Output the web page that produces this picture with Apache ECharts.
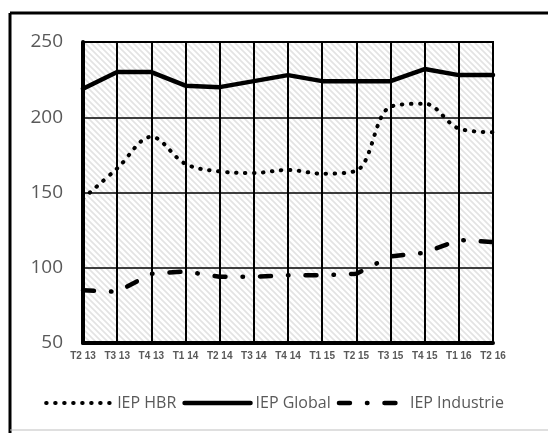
<!DOCTYPE html>
<html>
<head>
<meta charset="utf-8">
<script src="https://cdn.jsdelivr.net/npm/echarts@6/dist/echarts.min.js"></script>
<style>
  html, body { margin: 0; padding: 0; background: #fff; }
  #chart { width: 548px; height: 433px; }
</style>
</head>
<body>
<div id="chart"></div>
<script>
// categories (quarter + year)
const quarters = ['T2 13', 'T3 13', 'T4 13', 'T1 14', 'T2 14', 'T3 14', 'T4 14',
                  'T1 15', 'T2 15', 'T3 15', 'T4 15', 'T1 16', 'T2 16'];
const hbr = [146, 166, 187, 169, 164, 163, 165, 162.5, 164.5, 207, 209, 192.5, 190];
const globalIdx = [219, 230, 230, 221, 220, 224, 228, 224, 224, 224, 232, 228, 228];
const industrie = [85, 84, 96, 97.5, 94, 94, 95, 95, 96, 107.5, 110, 118.5, 117];
const yTicks = { min: 50, max: 250, step: 50 };

// hatch pattern for plot background
function hatch() {
    const s = 6;
    const c = document.createElement('canvas');
    c.width = s; c.height = s;
    const g = c.getContext('2d');
    g.fillStyle = '#ffffff';
    g.fillRect(0, 0, s, s);
    g.strokeStyle = '#e3e3e3';
    g.lineWidth = 1.6;
    g.beginPath();
    g.moveTo(-1, -1); g.lineTo(s + 1, s + 1);
    g.moveTo(-1, s - 1); g.lineTo(1, s + 1);
    g.moveTo(s - 1, -1); g.lineTo(s + 1, 1);
    g.stroke();
    return { image: c, repeat: 'repeat' };
}

const styles = {
    'IEP HBR': { color: '#000', width: 4, type: [0.5, 8.5], cap: 'round' },
    'IEP Global': { color: '#000', width: 4.5, cap: 'round' },
    'IEP Industrie': { color: '#000', width: 4.5, type: [11, 17, 0.5, 17], cap: 'round' }
};

const chart = echarts.init(document.getElementById('chart'));
const textGrey = '#595959';

chart.setOption({
    animation: false,
    backgroundColor: '#fff',
    graphic: [
        { type: 'line', shape: { x1: 10, y1: 13, x2: 548, y2: 13 }, style: { stroke: '#000', lineWidth: 3 } },
        { type: 'line', shape: { x1: 10, y1: 13, x2: 10, y2: 433 }, style: { stroke: '#000', lineWidth: 3 } },
        { type: 'line', shape: { x1: 10, y1: 430, x2: 548, y2: 430 }, style: { stroke: '#bfbfbf', lineWidth: 1 } }
    ],
    grid: {
        left: 83, top: 42, right: 55, bottom: 90,
        show: true,
        backgroundColor: hatch(),
        borderColor: '#000',
        borderWidth: 2
    },
    legend: {
        left: 'center',
        top: 390,
        itemWidth: 66,
        itemHeight: 12,
        itemGap: 6,
        itemStyle: { opacity: 0 },
        textStyle: { color: textGrey, fontSize: 16, fontFamily: 'Open Sans' },
        data: Object.keys(styles).map(n => ({ name: n, lineStyle: styles[n] }))
    },
    xAxis: {
        type: 'category',
        data: quarters,
        boundaryGap: false,
        axisLine: { lineStyle: { color: '#000', width: 4 } },
        axisTick: { show: false },
        axisLabel: { color: textGrey, fontSize: 10, fontWeight: 'bold', fontFamily: 'Liberation Sans', margin: 8 },
        splitLine: { show: true, lineStyle: { color: '#000', width: 2 } }
    },
    yAxis: {
        type: 'value',
        min: yTicks.min, max: yTicks.max, interval: yTicks.step,
        axisLine: { show: true, lineStyle: { color: '#000', width: 4 } },
        axisTick: { show: false },
        axisLabel: { color: textGrey, fontSize: 19, fontFamily: 'Open Sans', margin: 20 },
        splitLine: { lineStyle: { color: '#000', width: 1.5 } }
    },
    series: [
        { name: 'IEP HBR', type: 'line', data: hbr, smooth: 0.35, symbol: 'none', lineStyle: styles['IEP HBR'] },
        { name: 'IEP Global', type: 'line', data: globalIdx, symbol: 'none', lineStyle: styles['IEP Global'] },
        { name: 'IEP Industrie', type: 'line', data: industrie, symbol: 'none', lineStyle: styles['IEP Industrie'] }
    ]
});
</script>
</body>
</html>
